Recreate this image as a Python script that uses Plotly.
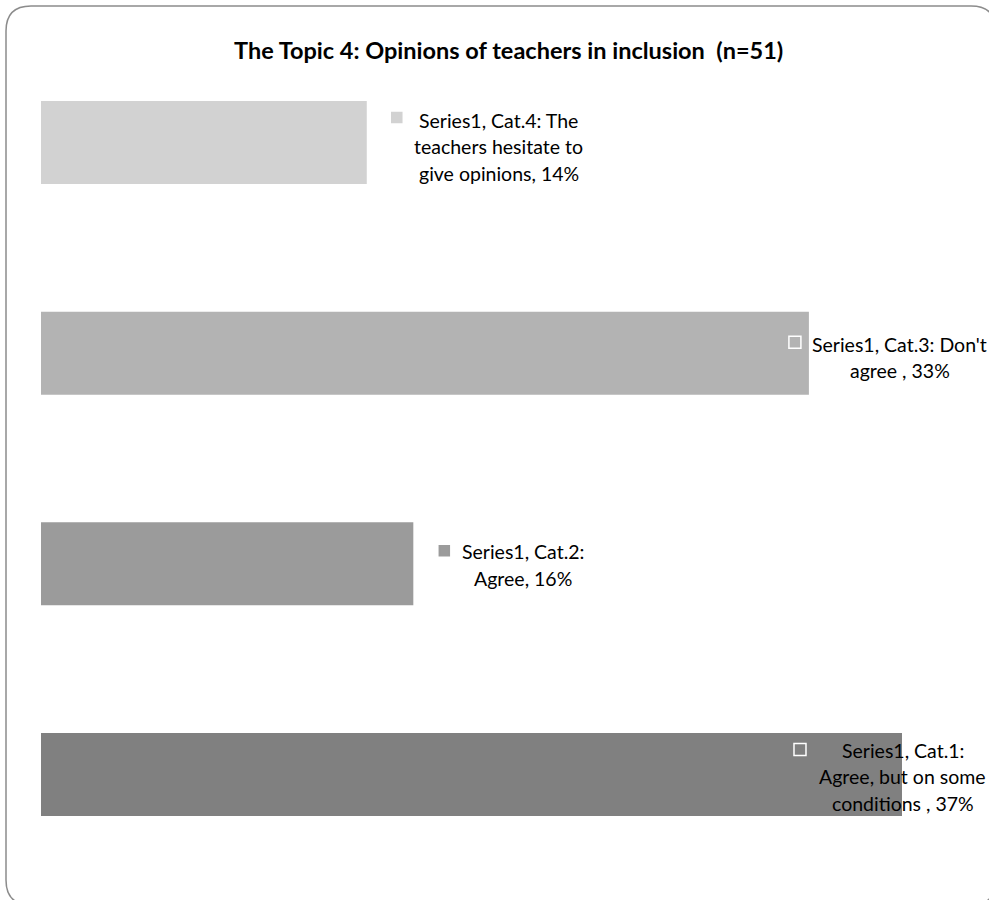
import plotly.graph_objects as go

categories = ["Cat.1", "Cat.2", "Cat.3", "Cat.4"]
values = [37, 16, 33, 14]
bar_colors = ["#808080", "#9b9b9b", "#b3b3b3", "#d2d2d2"]
label_lines = [
    ["Series1, Cat.1:", "Agree, but on some", "conditions , 37%"],
    ["Series1, Cat.2:", "Agree, 16%"],
    ["Series1, Cat.3: Don't", "agree , 33%"],
    ["Series1, Cat.4: The", "teachers hesitate to", "give opinions, 14%"],
]
title_text = "The Topic 4: Opinions of teachers in inclusion  (n=51)"

# label placement (pixels relative to bar end / category centre)
label_xshift = [1, 110, 91, 132]
label_ycenter = [2.5, 1, 4.5, 4.5]
key_xshift = [-102, 31, -14, 30]
key_yshift = [25, 13, 11, 25]
key_size = [12, 10, 12, 10]
key_fill = ["rgba(0,0,0,0)", "#9b9b9b", "rgba(0,0,0,0)", "#d2d2d2"]
key_line = ["#ffffff", "#9b9b9b", "#ffffff", "#d2d2d2"]
line_gap = 26.5

FONT = "Lato, Calibri, 'Open Sans', sans-serif"

fig = go.Figure()
fig.add_trace(go.Bar(
    x=values, y=categories, orientation="h",
    marker=dict(color=bar_colors, line=dict(width=0)),
    width=0.394, hoverinfo="skip", showlegend=False,
))

W, H = 989, 900
x_left, px_per = 41, 23.27
xmax = 40
dom_x = [x_left / W, (x_left + xmax * px_per) / W]
cat_gap = 210.67
y_bottom = 774.5 + cat_gap / 2
y_top = y_bottom - 4 * cat_gap
dom_y = [(H - y_bottom) / H, (H - y_top) / H]

annotations = []
shapes = []
for i, cat in enumerate(categories):
    lines = label_lines[i]
    n = len(lines)
    for j, ln in enumerate(lines):
        off = (j - (n - 1) / 2) * line_gap
        annotations.append(dict(
            x=values[i], y=cat, xref="x", yref="y", text=ln, showarrow=False,
            xanchor="center", yanchor="middle",
            xshift=label_xshift[i], yshift=-(off + label_ycenter[i]),
            font=dict(family=FONT, size=19.5, color="#000000"),
        ))
    s = key_size[i] / 2
    shapes.append(dict(
        type="rect", xref="x", yref="y", xsizemode="pixel", ysizemode="pixel",
        xanchor=values[i], yanchor=cat,
        x0=key_xshift[i] - s, x1=key_xshift[i] + s,
        y0=key_yshift[i] - s, y1=key_yshift[i] + s,
        fillcolor=key_fill[i], line=dict(color=key_line[i], width=1.5),
    ))

# rounded outer border on a pixel-space overlay axis
r = 25
L, T, R, B = 6, 6, 996, 905
path = (f"M {L+r},{T} L {R-r},{T} Q {R},{T} {R},{T+r} L {R},{B-r} Q {R},{B} {R-r},{B} "
        f"L {L+r},{B} Q {L},{B} {L},{B-r} L {L},{T+r} Q {L},{T} {L+r},{T} Z")
shapes.append(dict(type="path", xref="x2", yref="y2", path=path,
                   line=dict(color="#8c8c8c", width=1.5), fillcolor="rgba(0,0,0,0)"))

annotations.append(dict(
    x=508, y=50, xref="x2", yref="y2", text="<b>" + title_text + "</b>",
    showarrow=False, xanchor="center", yanchor="middle",
    font=dict(family=FONT, size=23.5, color="#000000"),
))

fig.update_layout(
    width=W, height=H, margin=dict(l=0, r=0, t=0, b=0),
    paper_bgcolor="white", plot_bgcolor="rgba(0,0,0,0)",
    xaxis=dict(range=[0, xmax], domain=dom_x, visible=False, fixedrange=True),
    yaxis=dict(categoryorder="array", categoryarray=categories, range=[-0.5, 3.5],
               domain=dom_y, visible=False, fixedrange=True),
    xaxis2=dict(range=[0, W], domain=[0, 1], visible=False, anchor="y2", fixedrange=True),
    yaxis2=dict(range=[H, 0], domain=[0, 1], visible=False, anchor="x2", fixedrange=True),
    annotations=annotations, shapes=shapes, showlegend=False,
)
fig.add_trace(go.Scatter(x=[None], y=[None], xaxis="x2", yaxis="y2", showlegend=False,
                         hoverinfo="skip"))

fig.write_html(
    "out.html",
    config={"displayModeBar": False},
    post_script="document.body.style.margin='0';document.body.style.overflow='hidden';",
)
